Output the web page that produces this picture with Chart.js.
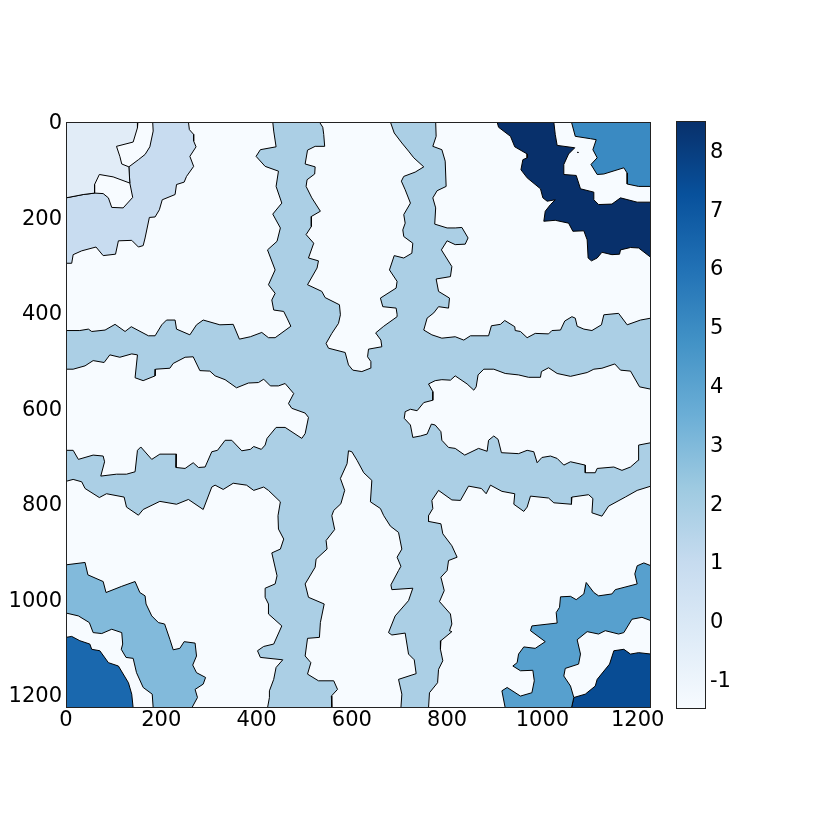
<!DOCTYPE html>
<html><head><meta charset="utf-8">
<script src="https://cdn.jsdelivr.net/npm/chart.js@4"></script>
<style>html,body{margin:0;padding:0;background:#fff}canvas{position:absolute;left:0;top:0}</style>
</head><body>
<canvas id="map" width="830" height="830"></canvas>
<canvas id="bar" width="830" height="830"></canvas>
<script>
const axisMax = 1228;
const axisTicks = [0,200,400,600,800,1000,1200];
const barMin = -1.5, barMax = 8.5;
const barTicks = [-1,0,1,2,3,4,5,6,7,8];
const blues = ['#f7fbff','#deebf7','#c6dbef','#9ecae1','#6baed6','#4292c6','#2171b5','#08519c','#08306b'];

const regionBackground = [[0,0],[1228,0],[1228,1228],[0,1228]];
const regionCross = [[532,0],[539,11],[541,26],[543,51],[523,51],[507,59],[502,88],[523,94],[522,109],[506,121],[504,135],[516,159],[534,187],[515,198],[515,219],[504,236],[520,254],[509,285],[530,291],[527,306],[507,341],[537,355],[544,368],[574,383],[576,404],
[572,422],[558,443],[546,464],[551,474],[586,483],[593,509],[602,520],[621,523],[639,516],[640,502],[633,492],[635,476],[663,471],[661,457],[650,442],[667,428],[695,408],
[695,403],[693,390],[665,387],[660,369],[693,348],[695,334],[679,310],[689,280],[709,285],[726,275],[728,254],[709,240],[707,226],[712,212],[709,194],[723,170],[712,142],[704,124],[709,114],[733,105],[751,94],[730,75],[719,61],[705,44],[689,23],[681,0],
[776,0],[777,30],[770,51],[789,58],[796,82],[798,135],[779,144],[770,159],[776,180],[774,214],[800,222],[817,222],[831,221],[844,243],[838,256],[817,257],[800,249],[788,268],[810,303],[807,324],[777,329],[782,355],[805,369],[803,390],[782,387],[772,400],
[758,411],[751,436],[768,446],[789,453],[817,450],[835,457],[849,448],[887,448],[893,427],[912,424],[921,416],[942,429],[943,437],[954,439],[968,452],[985,443],[1013,444],[1020,437],[1038,436],[1047,417],[1062,408],[1069,411],[1073,428],[1087,434],[1104,437],[1124,425],[1129,404],[1160,401],[1178,425],[1206,415],[1228,411],
[1228,560],[1204,555],[1185,522],[1164,520],[1152,507],[1125,516],[1108,518],[1094,525],[1059,533],[1031,527],[1013,515],[998,523],[996,535],[971,535],[950,530],[922,527],[898,518],[877,518],[865,530],[861,555],[856,562],[842,549],[817,532],
[807,541],[789,540],[775,542],[761,549],[770,565],[770,583],[751,588],[737,605],[723,602],[712,607],[710,621],[723,635],[728,661],[744,658],[758,654],[767,633],[775,635],[787,649],[789,667],[803,682],[817,684],
[837,698],[866,684],[884,690],[887,667],[898,658],[907,665],[914,693],[950,695],[968,688],[982,691],[989,714],[999,703],[1017,700],[1031,705],[1045,719],[1059,712],[1090,719],[1090,735],[1111,735],[1115,726],[1150,723],[1167,730],[1185,723],[1201,709],[1202,677],[1228,672],
[1228,763],[1199,772],[1174,786],[1139,805],[1125,826],[1104,819],[1106,789],[1097,781],[1062,786],[1061,801],[1024,798],[1013,788],[975,784],[968,807],[961,816],[940,801],[942,779],[915,774],[891,761],[882,779],[872,768],[845,763],[828,793],[810,792],[782,772],[768,793],[770,810],[761,825],
[761,837],[787,842],[791,863],[810,888],[821,912],[803,919],[800,940],[787,954],[794,982],[784,1005],[807,1031],[810,1052],[805,1066],[810,1068],[787,1087],[786,1105],[791,1129],[782,1147],[780,1175],[763,1196],[761,1228],
[703,1228],[705,1199],[698,1168],[735,1156],[731,1127],[719,1115],[712,1071],[684,1075],[677,1070],[691,1035],[719,1003],[728,977],[684,980],[682,970],[698,940],[703,931],[695,912],[705,895],[698,860],[681,847],[667,825],
[660,810],[639,796],[642,751],[625,735],[611,709],[600,691],[593,689],[590,716],[576,747],[585,772],[577,800],[562,814],[558,825],
[564,854],[546,877],[548,895],[525,916],[523,933],[502,968],[509,996],[542,1010],[534,1049],[532,1080],[507,1082],[502,1119],[514,1133],[507,1157],[530,1171],[562,1171],[570,1189],[557,1203],[558,1228],
[423,1228],[427,1206],[427,1192],[436,1168],[441,1143],[455,1127],[408,1122],[402,1108],[415,1099],[436,1094],[453,1056],[425,1031],[425,1010],[418,996],[418,977],[439,968],[443,951],[432,903],[450,895],[457,874],[446,853],[445,825],
[450,796],[425,772],[415,765],[394,772],[379,761],[351,757],[330,770],[313,761],[306,765],[288,812],[257,791],[232,801],[197,795],[162,812],[152,824],[127,807],[122,786],[85,779],[70,787],[40,768],[33,754],[15,749],[0,753],
[0,688],[15,688],[26,707],[57,698],[78,700],[81,712],[73,742],[106,738],[127,738],[145,733],[150,688],[157,681],[180,707],[197,696],[232,696],[231,724],[250,726],[267,714],[278,724],[292,723],[306,691],[318,688],[334,667],[348,667],[369,689],[387,686],
[394,680],[410,686],[418,677],[422,663],[441,640],[460,640],[495,663],[502,653],[509,619],[502,610],[474,600],[467,590],[478,569],[460,548],[446,553],[429,553],[415,539],[404,546],[383,547],[358,557],[334,540],[313,532],[302,522],[281,521],[267,492],[250,493],[225,506],[218,516],[188,518],[187,532],[162,542],[145,536],[150,488],[138,486],[113,493],[92,488],[80,504],[57,500],[40,511],[15,518],[0,518],
[0,437],[29,437],[47,434],[54,439],[82,436],[103,424],[124,439],[137,429],[173,448],[187,448],[201,425],[211,415],[229,415],[232,434],[260,446],[274,425],[288,415],[323,425],[351,424],[364,455],[387,450],[411,441],[425,452],[439,452],[472,428],[464,411],[457,397],
[436,394],[432,373],[439,359],[425,341],[439,310],[423,268],[443,250],[450,222],[434,193],[453,170],[441,135],[446,103],[418,93],[399,72],[408,58],[441,52],[436,19],[434,0]];
const regionZero = [[0,0],[151,0],[150,12],[141,42],[106,51],[113,72],[117,88],[132,94],[134,128],[99,115],[70,110],[60,131],[60,149],[36,152],[0,159]];
const regionOne = [[182,0],[257,0],[259,16],[268,26],[268,40],[273,52],[260,72],[268,93],[253,114],[248,126],[232,131],[229,152],[202,163],[196,184],[187,199],[175,200],[166,243],[162,259],[152,262],[138,248],[110,249],[104,277],[78,280],[63,262],[33,270],[15,278],[12,296],[0,296],[0,159],[36,152],[60,149],[78,150],[89,159],[96,179],[120,180],[140,158],[134,128],[132,94],[152,79],[166,68],[176,52],[183,19]];
const regionThree = [[0,928],[40,923],[46,949],[78,963],[84,986],[117,973],[145,963],[155,986],[166,993],[168,1010],[180,1035],[194,1049],[207,1052],[218,1084],[225,1106],[239,1103],[248,1089],[271,1092],[274,1119],[266,1138],[274,1154],[293,1164],[288,1178],[271,1189],[276,1206],[264,1228],[183,1228],[181,1199],[162,1185],[148,1154],[141,1124],[126,1122],[116,1105],[119,1094],[117,1070],[96,1063],[75,1072],[57,1070],[49,1049],[26,1035],[0,1029]];
const regionFour = [[1228,930],[1213,924],[1199,930],[1194,947],[1199,968],[1153,980],[1146,989],[1118,993],[1108,986],[1092,965],[1087,989],[1071,1001],[1059,994],[1038,995],[1036,1017],[1029,1028],[1031,1050],[978,1056],[975,1066],[1006,1089],[985,1103],[961,1100],[950,1115],[947,1133],[938,1140],[954,1150],[980,1149],[983,1171],[978,1196],[954,1203],[926,1185],[915,1192],[922,1228],[1061,1228],[1066,1206],[1059,1182],[1045,1161],[1048,1145],[1076,1136],[1080,1115],[1073,1085],[1094,1068],[1118,1073],[1132,1066],[1160,1073],[1171,1070],[1188,1042],[1209,1038],[1228,1045]];
const regionFive = [[1061,0],[1069,30],[1101,35],[1113,37],[1106,58],[1115,75],[1102,89],[1115,110],[1129,109],[1171,96],[1178,107],[1178,130],[1202,135],[1228,135],[1228,0]];
const regionSix = [[0,1080],[12,1078],[29,1087],[50,1094],[54,1105],[71,1108],[89,1133],[110,1140],[131,1175],[138,1199],[141,1228],[0,1228]];
const regionSeven = [[1228,1115],[1202,1112],[1185,1115],[1171,1105],[1150,1108],[1141,1136],[1115,1168],[1111,1182],[1090,1199],[1066,1206],[1061,1228],[1228,1228]];
const regionEight = [[905,0],[908,11],[933,30],[942,52],[968,67],[968,75],[959,79],[955,100],[968,117],[996,140],[1001,159],[1010,166],[1027,163],[1017,173],[1006,187],[1003,208],[1027,206],[1055,212],[1064,229],[1087,228],[1094,247],[1096,285],[1103,291],[1115,285],[1125,273],[1146,278],[1162,277],[1164,268],[1185,263],[1202,264],[1228,284],[1228,168],[1199,168],[1164,159],[1146,172],[1118,173],[1108,163],[1108,147],[1080,140],[1071,112],[1045,110],[1045,89],[1055,67],[1068,54],[1031,49],[1027,26],[1024,0]];
const speckEight = [[1074,63],[1075,63],[1075,64],[1074,64]];

const regions = [
  [regionCross,'#abcfe5'],[regionZero,'#e1ecf7'],[regionOne,'#c8dcf0'],[regionThree,'#82badb'],
  [regionFour,'#57a0ce'],[regionFive,'#3a8ac2'],[regionSix,'#1a68ae'],[regionSeven,'#084c94'],
  [regionEight,'#08306b'],[speckEight,'#08306b']
];
const toPts = p => p.concat([p[0]]).map(([x,y]) => ({x,y}));
const shape = (p,c,b) => ({data:toPts(p),showLine:true,fill:'shape',backgroundColor:c,borderColor:b,borderWidth:b==='transparent'?0:1,pointRadius:0,tension:0,borderJoinStyle:'round'});
const font = {family:'"DejaVu Sans"',size:21};
const frame = {id:'frame',afterDraw(c){const a=c.chartArea,x=c.ctx;x.save();x.strokeStyle='#222';x.lineWidth=1;x.strokeRect(a.left+.5,a.top+.5,a.right-a.left-1,a.bottom-a.top-1);x.restore();}};
const plain = v => String(v);

new Chart(document.getElementById('map'),{
  type:'scatter',
  data:{datasets:regions.map(([p,c])=>shape(p,c,'#000')).concat([shape(regionBackground,blues[0],'transparent')])},
  plugins:[frame],
  options:{
    responsive:false,animation:false,
    layout:{padding:{top:122,left:0,right:179,bottom:0}},
    plugins:{legend:{display:false},tooltip:{enabled:false}},
    scales:{
      x:{type:'linear',min:0,max:axisMax,grid:{display:false,drawTicks:false},border:{display:false},
        afterFit:s=>{s.height=122},
        afterBuildTicks:s=>{s.ticks=axisTicks.map(value=>({value}))},
        ticks:{font,color:'#000',padding:0,maxRotation:0,autoSkip:false,includeBounds:false,callback:plain}},
      y:{type:'linear',reverse:true,min:0,max:axisMax,grid:{display:false,drawTicks:false},border:{display:false},
        afterFit:s=>{s.width=66},
        afterBuildTicks:s=>{s.ticks=axisTicks.map(value=>({value}))},
        ticks:{font,color:'#000',padding:4,labelOffset:2,autoSkip:false,includeBounds:false,callback:plain}}
    }
  }
});

new Chart(document.getElementById('bar'),{
  type:'bar',
  data:{labels:[''],datasets:[{data:[[barMin,barMax]],barPercentage:1,categoryPercentage:1,borderWidth:0,
    backgroundColor(ctx){
      const a=ctx.chart.chartArea; if(!a) return blues[4];
      const g=ctx.chart.ctx.createLinearGradient(0,a.bottom,0,a.top);
      blues.forEach((c,i)=>g.addColorStop(i/(blues.length-1),c));
      return g;
    }}]},
  plugins:[frame],
  options:{
    responsive:false,animation:false,
    layout:{padding:{top:121,left:676,right:0,bottom:121}},
    plugins:{legend:{display:false},tooltip:{enabled:false}},
    scales:{
      x:{display:false},
      y:{position:'right',min:barMin,max:barMax,grid:{display:false,drawTicks:false},border:{display:false},
        afterFit:s=>{s.width=124},
        afterBuildTicks:s=>{s.ticks=barTicks.map(value=>({value}))},
        ticks:{font,color:'#000',padding:4,labelOffset:2,autoSkip:false,includeBounds:false,callback:plain}}
    }
  }
});
</script>
</body></html>
